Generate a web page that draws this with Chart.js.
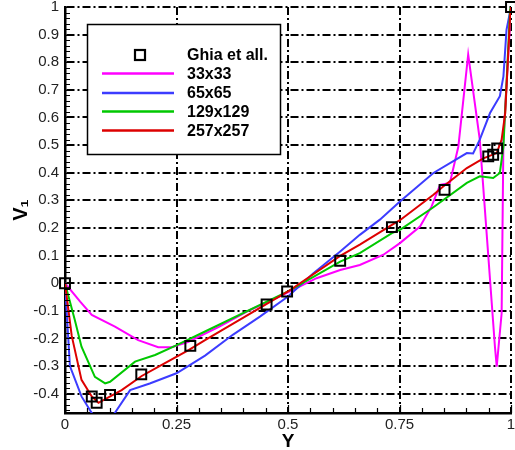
<!DOCTYPE html>
<html>
<head>
<meta charset="utf-8">
<script src="https://cdn.jsdelivr.net/npm/chart.js@4/dist/chart.umd.min.js"></script>
<style>
  html, body { margin: 0; padding: 0; background: #fff; }
  #wrap { width: 515px; height: 450px; }
</style>
</head>
<body>
<div id="wrap"><canvas id="c" width="515" height="450"></canvas></div>
<script>
// ---------- data ----------
const xTicks = [0, 0.25, 0.5, 0.75, 1];
const yTicks = [-0.4, -0.3, -0.2, -0.1, 0, 0.1, 0.2, 0.3, 0.4, 0.5, 0.6, 0.7, 0.8, 0.9, 1];

const ghiaX = [0, 0.06, 0.071, 0.101, 0.171, 0.281, 0.452, 0.498, 0.617, 0.733, 0.851, 0.949, 0.96, 0.969, 1];
const ghiaY = [0, -0.41, -0.433, -0.405, -0.33, -0.227, -0.077, -0.03, 0.081, 0.203, 0.338, 0.459, 0.465, 0.488, 1];

const g33X = [0, 0.034, 0.06, 0.112, 0.164, 0.209, 0.239, 0.277, 0.345, 0.415, 0.482, 0.564, 0.617, 0.661, 0.714, 0.751, 0.796, 0.822, 0.841, 0.863, 0.882, 0.904, 0.93, 0.964, 0.968, 0.979, 0.983, 1];
const g33Y = [0, -0.067, -0.115, -0.157, -0.206, -0.232, -0.232, -0.212, -0.158, -0.097, -0.048, 0.018, 0.048, 0.066, 0.103, 0.145, 0.205, 0.278, 0.356, 0.363, 0.495, 0.828, 0.52, -0.23, -0.302, -0.109, 0.52, 1];

const g65X = [0, 0.011, 0.037, 0.06, 0.085, 0.112, 0.146, 0.19, 0.25, 0.314, 0.377, 0.437, 0.5, 0.557, 0.617, 0.661, 0.706, 0.751, 0.826, 0.901, 0.915, 0.93, 0.953, 0.975, 0.983, 0.99, 1];
const g65Y = [0, -0.3, -0.41, -0.47, -0.52, -0.469, -0.387, -0.363, -0.326, -0.262, -0.186, -0.121, -0.048, 0.036, 0.115, 0.175, 0.23, 0.296, 0.399, 0.471, 0.47, 0.52, 0.616, 0.677, 0.749, 0.918, 1];

const g129X = [0, 0.022, 0.037, 0.067, 0.09, 0.101, 0.157, 0.202, 0.247, 0.314, 0.5, 0.617, 0.661, 0.733, 0.751, 0.826, 0.901, 0.93, 0.96, 0.975, 0.983, 0.998, 1];
const g129Y = [0, -0.133, -0.23, -0.339, -0.363, -0.357, -0.284, -0.26, -0.227, -0.175, -0.03, 0.078, 0.109, 0.181, 0.193, 0.275, 0.363, 0.387, 0.381, 0.399, 0.495, 0.99, 1];

const g257X = [0, 0.015, 0.037, 0.06, 0.075, 0.127, 0.172, 0.217, 0.277, 0.314, 0.5, 0.617, 0.661, 0.733, 0.751, 0.826, 0.848, 0.901, 0.938, 0.968, 0.979, 0.987, 0.998, 1];
const g257Y = [0, -0.19, -0.35, -0.41, -0.433, -0.387, -0.336, -0.296, -0.242, -0.206, -0.03, 0.099, 0.14, 0.211, 0.228, 0.32, 0.35, 0.417, 0.452, 0.471, 0.52, 0.616, 0.967, 1];

const seriesNames = ['Ghia et all.', '33x33', '65x65', '129x129', '257x257'];
// ---------- end data ----------

const pts = (xs, ys) => xs.map((x, i) => ({ x: x, y: ys[i] }));
const FONT = '"Liberation Sans", Arial, sans-serif';
const colors = { c33: '#ff00ff', c65: '#3c3cff', c129: '#00c800', c257: '#dd0000' };

const lineDs = (label, xs, ys, color, order) => ({
  label, data: pts(xs, ys), showLine: true, borderColor: color, backgroundColor: color,
  borderWidth: 2, pointRadius: 0, tension: 0, order
});

const decoPlugin = {
  id: 'deco',
  afterDraw(chart) {
    const { ctx, chartArea: { left, right, top, bottom }, scales: { x, y } } = chart;
    ctx.save();
    // minor ticks (inward)
    ctx.strokeStyle = '#000';
    ctx.lineWidth = 1.2;
    ctx.beginPath();
    for (let i = 0; i <= 20; i++) {
      const px = Math.round(x.getPixelForValue(i * 0.05)) + 0.5;
      const len = (i % 5 === 0) ? 8 : 5;
      ctx.moveTo(px, bottom);
      ctx.lineTo(px, bottom - len);
    }
    for (let k = -23; k <= 50; k++) {
      const v = k * 0.02;
      const py = Math.round(y.getPixelForValue(v)) + 0.5;
      ctx.moveTo(left, py);
      ctx.lineTo(left + 5, py);
    }
    ctx.stroke();

    // legend box
    const bx = 87, by = 24, bw = 193, bh = 130;
    ctx.fillStyle = '#fff';
    ctx.fillRect(bx, by, bw, bh);
    ctx.lineWidth = 1.5;
    ctx.strokeStyle = '#000';
    ctx.strokeRect(bx + 0.5, by + 0.5, bw, bh);

    const rows = [55, 73.5, 93, 111.5, 130.5];
    const lineColors = [null, colors.c33, colors.c65, colors.c129, colors.c257];
    ctx.font = 'bold 16px ' + FONT;
    ctx.textBaseline = 'middle';
    ctx.textAlign = 'left';
    rows.forEach((ry, i) => {
      if (i === 0) {
        ctx.lineWidth = 2.2;
        ctx.strokeStyle = '#000';
        ctx.strokeRect(135, ry - 5, 10, 10);
      } else {
        ctx.lineWidth = 2.5;
        ctx.strokeStyle = lineColors[i];
        ctx.beginPath();
        ctx.moveTo(102, ry);
        ctx.lineTo(174, ry);
        ctx.stroke();
      }
      ctx.fillStyle = '#000';
      ctx.fillText(seriesNames[i], 187, ry + 1);
    });
    ctx.restore();
  }
};

const tickFont = { family: FONT, size: 15, lineHeight: 1 };

new Chart(document.getElementById('c'), {
  type: 'scatter',
  data: {
    datasets: [
      {
        label: seriesNames[0], data: pts(ghiaX, ghiaY), showLine: false,
        pointStyle: 'rect', pointRadius: 7, pointBorderWidth: 2, borderWidth: 2,
        borderColor: '#000', backgroundColor: 'rgba(0,0,0,0)', pointBackgroundColor: 'rgba(0,0,0,0)',
        order: 0, clip: false
      },
      lineDs(seriesNames[4], g257X, g257Y, colors.c257, 1),
      lineDs(seriesNames[3], g129X, g129Y, colors.c129, 2),
      lineDs(seriesNames[2], g65X, g65Y, colors.c65, 3),
      lineDs(seriesNames[1], g33X, g33Y, colors.c33, 4)
    ]
  },
  options: {
    responsive: false,
    animation: false,
    devicePixelRatio: 1,
    layout: { autoPadding: false, padding: { top: 7, right: 4, left: 0, bottom: 0 } },
    plugins: { legend: { display: false }, tooltip: { enabled: false } },
    scales: {
      x: {
        type: 'linear', min: 0, max: 1,
        afterBuildTicks: s => { s.ticks = xTicks.map(v => ({ value: v })); },
        afterFit: s => { s.height = 37; s.paddingLeft = 0; s.paddingRight = 0; },
        grid: { color: '#000', lineWidth: 2, drawTicks: false },
        border: { display: true, color: '#000', width: 2.5, dash: [8, 3, 2, 3] },
        ticks: { font: tickFont, color: '#222', padding: 4, maxRotation: 0, callback: v => String(v) },
        title: { display: true, text: 'Y', color: '#000', font: { family: FONT, size: 19, weight: 'bold', lineHeight: 1 }, padding: { top: 0, bottom: -1 } }
      },
      y: {
        type: 'linear', min: -0.47, max: 1,
        afterBuildTicks: s => { s.ticks = yTicks.map(v => ({ value: v })); },
        afterFit: s => { s.width = 65; s.paddingTop = 0; s.paddingBottom = 0; },
        grid: { color: '#000', lineWidth: 2, drawTicks: false },
        border: { display: true, color: '#000', width: 2.5, dash: [8, 3, 2, 3] },
        ticks: { font: tickFont, color: '#222', padding: 6, callback: v => String(Math.round(v * 10) / 10) },
        title: { display: true, text: 'V\u2081', color: '#000', font: { family: FONT, size: 20, weight: 'bold' }, padding: { top: 9, bottom: 0 } }
      }
    }
  },
  plugins: [decoPlugin]
});
</script>
</body>
</html>
